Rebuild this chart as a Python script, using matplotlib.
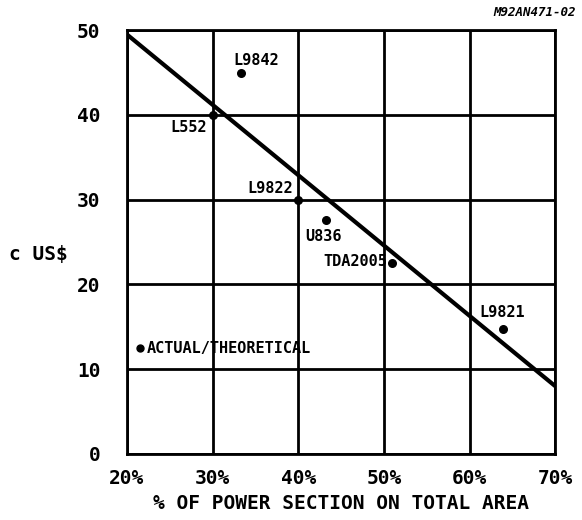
import numpy as np
from matplotlib import pyplot as plt

# data
devices = ["L9842", "L552", "L9822", "U836", "TDA2005", "L9821"]
area_pct = [33.3, 30.0, 40.0, 43.2, 51.0, 63.9]
cost = [45.0, 40.0, 30.0, 27.6, 22.5, 14.7]
# label offsets in points (dx, dy) and alignment
label_pos = [(-5, 9, "left"), (-4, -9, "right"), (-4, 8, "right"),
             (-15, -12, "left"), (-4, 1, "right"), (-17, 12, "left")]
trend_x = [20, 70]
trend_y = [49.5, 8.0]

xticks = [20, 30, 40, 50, 60, 70]
yticks = [0, 10, 20, 30, 40, 50]

plt.rcParams['font.family'] = ['DejaVu Sans Mono', 'DejaVu Sans']
plt.rcParams['font.weight'] = 'bold'

fig = plt.figure(figsize=(5.82, 5.20), dpi=100)
ax = fig.add_axes([0.218, 0.127, 0.736, 0.815])

ax.set_xlim(20, 70)
ax.set_ylim(0, 50)
ax.set_xticks(xticks)
ax.set_yticks(yticks)
ax.set_xticklabels([str(t) + "%" for t in xticks], fontsize=14, fontweight='bold')
ax.set_yticklabels([str(t) for t in yticks], fontsize=14, fontweight='bold')
ax.tick_params(length=0)
ax.tick_params(axis='y', pad=19)
ax.tick_params(axis='x', pad=11)
ax.grid(True, color='black', linewidth=2)
for s in ax.spines.values():
    s.set_linewidth(2)

ax.plot(trend_x, trend_y, color='black', linewidth=3, solid_capstyle='butt', zorder=3)
ax.scatter(area_pct, cost, s=30, color='black', zorder=4)

for name, x, y, (dx, dy, ha) in zip(devices, area_pct, cost, label_pos):
    ax.annotate(name, (x, y), xytext=(dx, dy), textcoords='offset points',
                ha=ha, va='center', fontsize=11, fontweight='bold')

ax.scatter([21.5], [12.5], s=25, color='black', zorder=4)
ax.text(22.3, 12.5, "ACTUAL/THEORETICAL", fontsize=11, fontweight='bold', va='center')

ax.set_xlabel("% OF POWER SECTION ON TOTAL AREA", fontsize=14, fontweight='bold', labelpad=4)
fig.text(0.015, 0.51, "c US$", fontsize=14, fontweight='bold', va='center')
fig.text(0.99, 0.975, "M92AN471-02", fontsize=9, fontweight='bold', style='italic',
         ha='right', va='center')

fig.savefig("out.png", dpi=100)
